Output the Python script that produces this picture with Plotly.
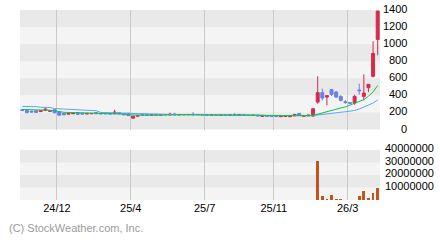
import plotly.graph_objects as go

# ---------------- data (weekly bars) ----------------
opens = [232, 223, 215, 220, 210, 225, 212, 232, 204, 190, 180, 185, 198, 190, 182, 184,
         198, 190, 188, 186, 184, 196, 186, 190, 133, 156, 178, 176, 168, 178, 168, 176,
         170, 180, 170, 176, 172, 178, 172, 176, 172, 168, 172, 166, 172, 168, 174, 166,
         176, 170, 164, 168, 152, 162, 158, 156, 150, 152, 150, 160, 188, 154, 160, 157,
         321, 432, 380, 467, 439, 388, 325, 315, 309, 462, 388, 490, 623, 1055]
highs = [236, 225, 218, 222, 224, 255, 226, 234, 206, 194, 194, 200, 202, 194, 192, 190,
         200, 192, 190, 190, 232, 200, 190, 192, 160, 168, 184, 178, 176, 180, 176, 178,
         196, 196, 180, 178, 178, 204, 178, 178, 176, 176, 176, 174, 176, 178, 192, 180,
         178, 172, 170, 170, 168, 164, 160, 158, 160, 158, 160, 180, 192, 168, 172, 250,
         623, 479, 400, 474, 450, 400, 345, 320, 408, 537, 647, 529, 1035, 1388]
lows = [220, 188, 200, 196, 206, 215, 208, 192, 162, 168, 178, 184, 174, 178, 180, 182,
        184, 180, 182, 180, 182, 180, 168, 158, 128, 150, 168, 166, 166, 164, 166, 168,
        168, 170, 168, 170, 170, 170, 170, 168, 164, 166, 162, 164, 166, 166, 166, 164,
        168, 160, 162, 156, 150, 152, 150, 150, 148, 148, 146, 158, 164, 150, 158, 154,
        302, 341, 282, 392, 368, 329, 300, 300, 290, 408, 341, 439, 611, 870]
closes = [222, 198, 205, 200, 222, 238, 223, 196, 168, 172, 190, 196, 178, 182, 188, 188,
          186, 184, 184, 182, 204, 184, 172, 162, 156, 165, 170, 170, 174, 168, 174, 172,
          178, 172, 176, 172, 176, 172, 176, 170, 168, 172, 166, 172, 168, 174, 168, 176,
          170, 164, 168, 160, 164, 154, 152, 152, 156, 156, 156, 176, 168, 164, 168, 243,
          432, 368, 396, 412, 380, 341, 318, 308, 388, 455, 427, 529, 890, 1388]

ma_short = [235, 235, 233, 231, 229, 227, 225,
            215, 210,
            202, 200, 198,
            192, 190, 189, 188, 187, 186, 186, 185, 184, 183, 182,
            176, 170, 166, 165, 166, 168, 170, 171,
            172, 173, 173, 174, 174, 174, 174, 173, 173, 172, 172, 172, 172, 172, 172, 172,
            171, 171, 170, 169,
            167, 166, 165, 164,
            162, 161, 161, 160, 160, 161, 161, 162,
            165, 180, 198, 215, 228, 240, 252, 265, 285, 305, 328, 350, 390, 440, 517]
ma_long = [270, 270, 270, 268,
           260, 259, 258,
           245, 242,
           233, 231, 229,
           224, 223, 222, 222, 220,
           200, 198, 197, 196, 195,
           190, 188, 186, 184,
           180, 179, 178, 178, 177, 176, 176, 175, 175, 174, 174, 174, 173, 173, 172,
           172, 172, 172, 172, 172, 172, 171, 171, 171, 170, 170, 168,
           163, 162, 162, 161, 161, 160,
           160, 160, 160, 161,
           162, 170, 178, 184, 190, 196, 202, 208, 216, 223, 240, 262, 285, 310, 345]

volumes = [150000, 220000, 130000, 180000, 120000, 260000, 110000, 200000, 240000, 160000,
           120000, 140000, 150000, 100000, 90000, 110000, 130000, 100000, 90000, 80000,
           250000, 120000, 130000, 160000, 300000, 200000, 140000, 110000, 90000, 100000,
           80000, 90000, 150000, 130000, 90000, 80000, 70000, 160000, 90000, 80000,
           90000, 80000, 70000, 90000, 80000, 90000, 140000, 110000, 80000, 90000,
           70000, 80000, 120000, 80000, 70000, 70000, 80000, 90000, 100000, 180000,
           160000, 120000, 110000, 350000,
           31200000, 3200000, 1000000, 4000000, 800000, 800000, 200000, 200000, 300000,
           3200000, 7200000, 1600000, 5600000, 9600000]

tick_index = [7.5, 23.5, 39.5, 54.5, 70.5]
tick_labels = ["24/12", "25/4", "25/7", "25/11", "26/3"]
price_ticks = [0, 200, 400, 600, 800, 1000, 1200, 1400]
volume_ticks = [10000000, 20000000, 30000000, 40000000]

n = len(closes)
assert all(len(a) == n for a in (opens, highs, lows, ma_short, ma_long, volumes))
xs = list(range(n))

# ---------------- style ----------------
W, H = 440, 240
FONT = "Liberation Sans, Arial, sans-serif"
RED = "#d42a4e"
BLUE = "#6680f0"
GREEN = "#12c24a"
LBLUE = "#58a8f6"
# alpha just under 1: plotly then rounds bar edges to whole pixels instead of
# expanding sub-pixel bars to 1px (the reference shows no bars for tiny volumes)
VOLC = "rgba(196,83,28,0.995)"
DARK = "#e9e9e9"
LIGHT = "#f4f4f4"
GRID = "#c9c9c9"

x0, x1 = 20 / W, 380 / W
price_dom = [(H - 129.5) / H, (H - 10) / H]
vol_dom = [(H - 200) / H, (H - 150) / H]

fig = go.Figure()
fig.add_trace(go.Candlestick(
    x=xs, open=opens, high=highs, low=lows, close=closes,
    increasing=dict(line=dict(color=RED, width=1), fillcolor=RED),
    decreasing=dict(line=dict(color=BLUE, width=1), fillcolor=BLUE),
    whiskerwidth=0, xaxis="x", yaxis="y", hoverinfo="skip"))
fig.add_trace(go.Scatter(x=xs, y=ma_long, mode="lines",
                         line=dict(color=LBLUE, width=1), xaxis="x", yaxis="y"))
fig.add_trace(go.Scatter(x=xs, y=ma_short, mode="lines",
                         line=dict(color=GREEN, width=1), xaxis="x", yaxis="y"))
fig.add_trace(go.Bar(x=xs, y=volumes,
                     marker=dict(color=VOLC, line=dict(width=0)),
                     width=0.6, xaxis="x2", yaxis="y2"))

shapes = []
for k in range(len(price_ticks) - 1):
    if k % 2 == 0:
        shapes.append(dict(type="rect", xref="paper", yref="y", x0=x0, x1=x1,
                           y0=price_ticks[k], y1=price_ticks[k + 1],
                           fillcolor=DARK, line=dict(width=0), layer="below"))
vb = [0] + volume_ticks
for k in range(len(vb) - 1):
    if k % 2 == 1:
        shapes.append(dict(type="rect", xref="paper", yref="y2", x0=x0, x1=x1,
                           y0=vb[k], y1=vb[k + 1],
                           fillcolor=DARK, line=dict(width=0), layer="below"))

annotations = []
for v in price_ticks:
    annotations.append(dict(xref="paper", yref="y", x=409 / W, y=v, text=str(v),
                            xanchor="right", yanchor="middle", showarrow=False, yshift=1,
                            font=dict(family=FONT, size=11, color="#000000")))
for v in volume_ticks:
    annotations.append(dict(xref="paper", yref="y2", x=383 / W, y=v, text=str(v),
                            xanchor="left", yanchor="middle", showarrow=False, yshift=2,
                            font=dict(family=FONT, size=11, color="#000000")))
annotations.append(dict(xref="paper", yref="paper", x=7 / W, y=(H - 228) / H,
                        text="(C) StockWeather.com, Inc.", xanchor="left", yanchor="middle",
                        showarrow=False, font=dict(family=FONT, size=11, color="#9a9a9a")))

xcommon = dict(domain=[x0, x1], range=[-0.5, n - 0.5], tickmode="array",
               tickvals=tick_index, ticktext=tick_labels, showgrid=True,
               gridcolor=GRID, gridwidth=1, zeroline=False, showline=False, ticks="",
               fixedrange=True)

fig.update_layout(
    width=W, height=H, margin=dict(l=0, r=0, t=0, b=0),
    paper_bgcolor="#ffffff", plot_bgcolor=LIGHT, showlegend=False,
    boxgap=0.2, boxgroupgap=0.2, bargap=0,
    xaxis=dict(**xcommon, anchor="y", showticklabels=False,
               rangeslider=dict(visible=False)),
    yaxis=dict(domain=price_dom, range=[0, 1400], showticklabels=False,
               showgrid=False, zeroline=False, fixedrange=True),
    xaxis2=dict(**xcommon, anchor="y2", matches="x", showticklabels=True,
                tickfont=dict(family=FONT, size=11, color="#000000")),
    yaxis2=dict(domain=vol_dom, range=[0, 40000000], showticklabels=False,
                showgrid=False, zeroline=False, fixedrange=True),
    shapes=shapes, annotations=annotations,
    font=dict(family=FONT, size=11),
)

fig.write_html("out.html", config={"displayModeBar": False})
